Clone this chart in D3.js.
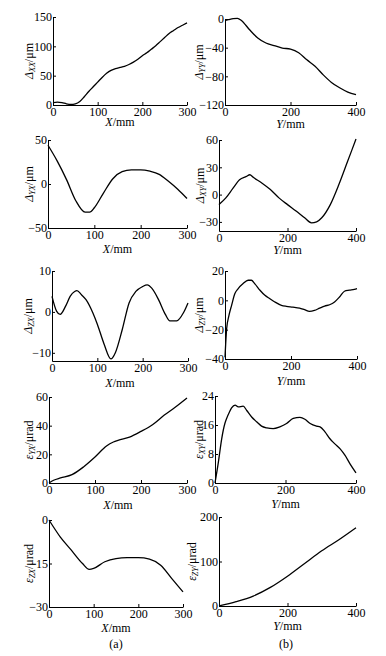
<!DOCTYPE html>
<html>
<head>
<meta charset="utf-8">
<script src="https://cdn.jsdelivr.net/npm/d3@7"></script>
<style>
  body { margin: 0; background: #fff; }
  svg text { font-family: "Liberation Serif", "Times New Roman", serif; font-size: 12px; fill: #000; }
  .axis path, .axis line { stroke: #000; stroke-width: 1; }
  .curve { fill: none; stroke: #000; stroke-width: 1.3; }
</style>
</head>
<body>
<svg id="chart" width="386" height="656"></svg>
<script>
// --- data ---
var posXX = [0,10,20,30,40,50,60,70,80,90,100,110,120,130,140,150,160,170,180,190,200,210,220,230,240,250,260,270,280,290,300];
var dXX = [4,5,4,2,1,2,6,14,23,31,39,47,54,59,62,64,66,69,73,78,84,89,95,101,108,115,122,127,132,136,140];

var posYY = [0,10,25,38,50,75,100,125,150,175,200,225,250,275,300,325,350,375,400];
var dYY = [-2,-1,0.5,1,-2,-15,-26.5,-33.5,-37,-40.5,-42,-47,-57,-66,-78,-88.5,-96,-102,-105.5];

var posYX = [0,20,40,60,80,90,100,120,140,160,180,200,220,240,260,280,300];
var dYX = [44,26,5,-19,-32,-32,-27,-10,6,14,16,16,14.5,11,3,-6,-16.5];

var posXY = [0,20,40,60,80,90,100,125,150,175,200,225,250,270,285,300,325,350,375,400];
var dXY = [-11,-3.6,6.5,16.4,20,21.8,19,12.7,5.5,-3.6,-11,-18,-25.5,-31,-30,-25.5,-11,11,36,61];

var posZX = [0,10,18,30,40,50,55,65,75,90,100,115,130,140,155,170,185,200,210,220,235,250,260,275,290,300];
var dZX = [3.8,0.2,-0.6,1.4,3.8,5,5.2,4.2,3,-0.2,-3,-7.9,-11.5,-9.9,-4.3,2.2,5,6.2,6.6,5.8,3,-0.6,-2.2,-2.2,-0.2,2.2];

var posZY = [0,5,12,20,30,40,55,70,80,90,106,121,136,151,171,186,206,226,241,256,271,287,302,317,332,347,362,377,392,400];
var dZY = [-38.9,-19.4,-10.3,-3.4,4.6,8,11.4,13.7,13.7,11.4,6.9,3.4,1.1,-1.1,-3.4,-4.1,-4.6,-5.3,-6.4,-7.5,-6.9,-5.3,-3.9,-3,-1.1,2.3,6.2,6.9,7.5,8];

var posEYX = [0,10,25,50,75,100,125,140,150,175,200,225,250,275,300];
var eYX = [0,1.9,3.5,5.8,11.2,18.1,25.8,28.6,29.8,32,36,40.7,47.2,53,59.3];

var posEXY = [0,9.5,19,28,33,41,47,57,66,80,90,104,118,132,147,165,184,203,222,241,255,270,288,298,312,326,340,355,369,383,400];
var eXY = [0,5.7,12.2,16.4,17.8,19.6,20.7,21.5,21,21.2,20,18.2,16.9,15.7,15.2,15,15.5,16.4,17.8,18.1,17.6,16.4,15.7,15.5,14.1,12.2,10.8,9.4,7.6,5.3,2.8];

var posEZX = [0,25,50,75,90,100,125,150,175,200,225,250,275,300];
var eZX = [0,-5.8,-10.4,-15,-17,-16.7,-14.4,-13.3,-13,-13,-13.5,-15.6,-20.2,-24.8];

var posEZY = [0,50,100,150,200,250,300,350,400];
var eZY = [0,9.7,22.4,41.8,67,95.5,124,149,176];

var ticksX = [0,100,200,300];
var ticksY = [0,200,400];

// --- panels: box = [left, right, top, bottom] px; lx = y title x; tl = x title offset ---
var panels = [
  {p: posXX,  v: dXX, xd: [0,300], xt: ticksX, yd: [0,150],   yt: [0,50,100,150],   sym: "Δ", sub: "XX", unit: "/μm",   ax: "X", box: [53,187,17,105],  lx: 33,  tl: 21},
  {p: posYY,  v: dYY, xd: [0,400], xt: ticksY, yd: [-120,0],  yt: [-120,-80,-40,0], sym: "Δ", sub: "YY", unit: "/μm",   ax: "Y", box: [225,356,19,105], lx: 203, tl: 23},
  {p: posYX,  v: dYX, xd: [0,300], xt: ticksX, yd: [-50,50],  yt: [-50,0,50],       sym: "Δ", sub: "YX", unit: "/μm",   ax: "X", box: [48,187,140,228], lx: 33,  tl: 25},
  {p: posXY,  v: dXY, xd: [0,400], xt: ticksY, yd: [-40,60],  yt: [-30,0,30,60],    sym: "Δ", sub: "XY", unit: "/μm",   ax: "Y", box: [219,356,140,231], lx: 204, tl: 23},
  {p: posZX,  v: dZX, xd: [0,300], xt: ticksX, yd: [-12,10],  yt: [-10,0,10],       sym: "Δ", sub: "ZX", unit: "/μm",   ax: "X", box: [52,188,271,361], lx: 32,  tl: 26},
  {p: posZY,  v: dZY, xd: [0,400], xt: ticksY, yd: [-40,20],  yt: [-40,-20,0,20],   sym: "Δ", sub: "ZY", unit: "/μm",   ax: "Y", box: [225,357,271,359], lx: 203, tl: 26},
  {p: posEYX, v: eYX, xd: [0,300], xt: ticksX, yd: [0,60],    yt: [0,20,40,60],     sym: "ε", sub: "YX", unit: "/μrad", ax: "X", box: [49,187,397,483], lx: 33,  tl: 26},
  {p: posEXY, v: eXY, xd: [0,400], xt: ticksY, yd: [0,24],    yt: [0,8,16,24],      sym: "ε", sub: "XY", unit: "/μrad", ax: "Y", box: [215,356,396,483], lx: 203, tl: 25},
  {p: posEZX, v: eZX, xd: [0,300], xt: ticksX, yd: [-30,0],   yt: [-30,-15,0],      sym: "ε", sub: "ZX", unit: "/μrad", ax: "X", box: [49,183,520,607], lx: 33,  tl: 25},
  {p: posEZY, v: eZY, xd: [0,400], xt: ticksY, yd: [0,200],   yt: [0,100,200],      sym: "ε", sub: "ZY", unit: "/μrad", ax: "Y", box: [219,356,517,606], lx: 196, tl: 24}
];

var svg = d3.select("#chart");

panels.forEach(function(d) {
  var l = d.box[0], r = d.box[1], t = d.box[2], b = d.box[3];
  var x = d3.scaleLinear().domain(d.xd).range([l, r]);
  var y = d3.scaleLinear().domain(d.yd).range([b, t]);
  var g = svg.append("g");

  g.append("g").attr("class", "axis").attr("transform", "translate(0," + b + ")")
    .call(d3.axisBottom(x).tickValues(d.xt).tickSizeInner(-3).tickSizeOuter(0).tickPadding(2));
  g.append("g").attr("class", "axis").attr("transform", "translate(" + l + ",0)")
    .call(d3.axisLeft(y).tickValues(d.yt).tickSizeInner(-3).tickSizeOuter(0).tickPadding(1));

  var line = d3.line().x(function(_, k) { return x(d.p[k]); }).y(function(v) { return y(v); }).curve(d3.curveMonotoneX);
  g.append("path").attr("class", "curve").attr("d", line(d.v));

  // x title
  var xt = g.append("text").attr("x", (l + r) / 2).attr("y", b + d.tl).attr("text-anchor", "middle");
  xt.append("tspan").attr("font-style", "italic").text(d.ax);
  xt.append("tspan").text("/mm");

  // y title
  var yt = g.append("text").attr("text-anchor", "middle")
    .attr("transform", "translate(" + d.lx + "," + ((t + b) / 2) + ") rotate(-90)");
  yt.append("tspan").attr("font-style", "italic").text(d.sym);
  yt.append("tspan").attr("font-style", "italic").style("font-size", "8px").attr("dy", 2).text(d.sub);
  yt.append("tspan").attr("dy", -2).text(d.unit);
});

svg.append("text").attr("x", 116).attr("y", 648).attr("text-anchor", "middle").text("(a)");
svg.append("text").attr("x", 286).attr("y", 648).attr("text-anchor", "middle").text("(b)");
</script>
</body>
</html>
